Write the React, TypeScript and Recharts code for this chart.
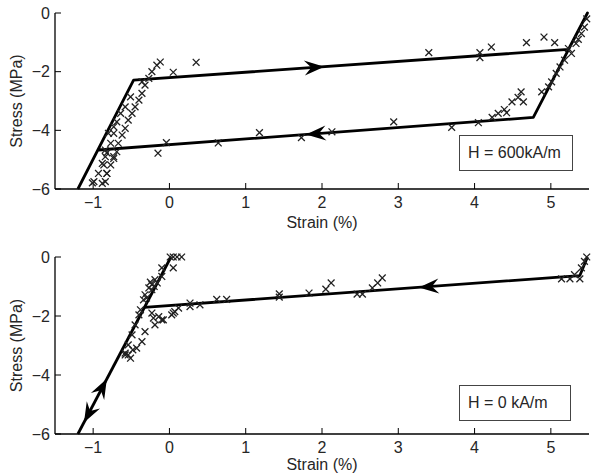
import { ComposedChart, Scatter, XAxis, YAxis } from 'recharts';

const STRAIN_TICKS = [-1, 0, 1, 2, 3, 4, 5];
const STRESS_TICKS = [-6, -4, -2, 0];

// H = 600 kA/m : model loop (strain %, stress MPa)
const model600: [number, number][] = [
  [-1.2, -6], [-0.47, -2.29], [5.23, -1.24], [5.48, 0], [4.77, -3.56], [-0.93, -4.67],
];
const measured600: [number, number][] = [
  [-0.12, -1.67], [-0.165, -1.78], [-0.23, -2.0], [-0.27, -2.23], [-0.36, -2.35], [-0.32, -2.46],
  [-0.36, -2.74], [-0.4, -2.97], [-0.45, -3.2], [-0.49, -3.42], [-0.54, -3.65], [-0.58, -3.93],
  [-0.62, -4.16], [-0.67, -4.44], [-0.69, -4.73], [-0.73, -4.96], [-0.77, -5.18], [-0.82, -5.47],
  [-0.84, -5.75], [-0.51, -2.86], [-0.58, -3.2], [-0.64, -3.42], [-0.69, -3.71], [-0.73, -3.88],
  [-0.73, -4.1], [-0.8, -4.1], [-0.77, -4.44], [-0.84, -4.67], [-0.82, -4.77], [-0.73, -4.9],
  [-0.84, -4.9], [-0.88, -5.13], [-0.86, -5.18], [-0.93, -5.47], [-0.82, -5.47], [-0.99, -5.75],
  [-0.88, -5.81], [-1.01, -5.79],
  [-0.15, -4.78], [-0.04, -4.42], [0.05, -2.02], [0.35, -1.68], [0.64, -4.43], [1.18, -4.08],
  [1.73, -4.25], [2.13, -4.05], [2.94, -3.71], [3.7, -3.9], [4.05, -3.74], [4.23, -3.56],
  [4.31, -3.42], [4.39, -3.29], [4.42, -3.4], [4.49, -3.03], [4.57, -2.88], [4.61, -2.69],
  [4.64, -3.03], [3.4, -1.35], [4.07, -1.35], [4.07, -1.52], [4.22, -1.16], [4.68, -1.01],
  [4.91, -0.82], [5.05, -1.01], [5.23, -1.21], [5.27, -1.38], [5.33, -1.04], [5.36, -0.9],
  [5.4, -0.7], [5.44, -0.48], [5.47, -0.2], [5.18, -1.61], [5.12, -1.84], [5.07, -2.06],
  [5.01, -2.35], [4.97, -2.52], [4.88, -2.69],
];
// arrow tip (x, y) and the point it heads towards
const arrows600: [number, number, number, number][] = [
  [2.03, -1.83, 5.23, -1.24],
  [1.79, -4.14, -0.93, -4.67],
];

// H = 0 kA/m : model paths
const model0Elastic: [number, number][] = [[-1.2, -6], [0.02, 0]];
const model0Unload: [number, number][] = [[-0.33, -1.71], [5.38, -0.63], [5.48, 0]];
const measured0: [number, number][] = [
  [0.01, 0], [0.05, 0], [0.1, 0], [0.16, 0], [0.05, -0.37], [-0.1, -0.37], [-0.1, -0.66],
  [-0.19, -0.77], [-0.16, -0.88], [-0.25, -0.85], [-0.23, -0.94], [-0.2, -1.0], [-0.27, -1.05],
  [-0.23, -1.11], [-0.32, -1.28], [-0.3, -1.39], [-0.34, -1.45], [-0.38, -1.79], [-0.4, -1.96],
  [-0.45, -2.3], [-0.49, -2.64], [-0.54, -2.98], [-0.48, -3.15], [-0.58, -3.26], [-0.58, -3.32],
  [-0.54, -3.32], [-0.23, -1.9], [-0.14, -2.02], [-0.08, -2.13], [0.03, -1.96], [-0.19, -2.3],
  [-0.32, -2.53], [-0.36, -2.87], [-0.43, -3.09], [-0.51, -3.43], [-0.1, -2.13], [-0.21, -2.07],
  [0.07, -1.85], [0.12, -1.73], [0.05, -1.9], [0.27, -1.68], [0.27, -1.56], [0.4, -1.62],
  [0.62, -1.44], [0.75, -1.44], [1.44, -1.25], [1.44, -1.36], [1.83, -1.22], [2.05, -1.09],
  [2.12, -0.88], [2.46, -1.26], [2.53, -1.26], [2.66, -1.05], [2.73, -0.88], [2.79, -0.71],
  [5.14, -0.74], [5.25, -0.74], [5.31, -0.6], [5.38, -0.74], [5.4, -0.37], [5.44, -0.15], [5.47, 0],
];
const arrows0: [number, number, number, number][] = [
  [3.27, -1.03, -0.33, -1.71],
  [-0.82, -4.13, 0.02, 0],
  [-1.12, -5.61, -1.2, -6],
];

const FONT = '"Liberation Sans", Arial, sans-serif';
const INK = '#262626';
const PX_X = 534 / 7;
const PX_Y = 176 / 6;

const pts = (pairs: [number, number][]) => pairs.map(([x, y]) => ({ x, y }));
const arrowPts = (rows: [number, number, number, number][]) =>
  rows.map(([x, y, tx, ty]) => ({ x, y, tx, ty }));
const fmt = (v: number) => (v < 0 ? `\u2212${-v}` : `${v}`);

const Cross = ({ cx, cy }: any) => {
  const r = 3.4;
  return (
    <path
      d={`M${cx - r},${cy - r}L${cx + r},${cy + r}M${cx - r},${cy + r}L${cx + r},${cy - r}`}
      stroke="#222"
      strokeWidth={1.3}
      fill="none"
    />
  );
};

const Arrow = ({ cx, cy, payload }: any) => {
  const ang =
    (Math.atan2(-(payload.ty - payload.y) * PX_Y, (payload.tx - payload.x) * PX_X) * 180) / Math.PI;
  return (
    <path transform={`translate(${cx},${cy}) rotate(${ang})`} d="M0,0L-20,-7.5L-13,0L-20,7.5Z" fill="#000" />
  );
};

const NoDot = () => <g />;

const yLabel = ({ viewBox }: any) => {
  const cx = 16;
  const cy = viewBox.y + viewBox.height / 2;
  return (
    <text x={cx} y={cy} transform={`rotate(-90 ${cx} ${cy})`} textAnchor="middle" dominantBaseline="central"
      fill={INK} fontSize={16} fontFamily={FONT}>
      Stress (MPa)
    </text>
  );
};

const xLabel = (base: number) => ({ viewBox }: any) => (
  <text x={viewBox.x + viewBox.width / 2} y={viewBox.y + base} textAnchor="middle" fill={INK} fontSize={16} fontFamily={FONT}>
    Strain (%)
  </text>
);

const tickStyle = { fill: INK, fontSize: 16, fontFamily: FONT };
const axisLine = { stroke: '#000', strokeWidth: 1.3 };

function Panel({ top, height, marginTop, axisH, labelBase, models, measured, arrows, legend, legendTop, legendW }: any) {
  return (
    <div style={{ position: 'absolute', left: 0, top, width: 593, height }}>
      <ComposedChart width={593} height={height} margin={{ top: marginTop, right: 4, bottom: 0, left: 0 }}>
        <XAxis xAxisId="b" type="number" dataKey="x" domain={[-1.5, 5.5]} ticks={STRAIN_TICKS} height={axisH}
          tickSize={-6} tickMargin={14} tick={tickStyle} tickFormatter={fmt} axisLine={axisLine}
          tickLine={{ stroke: '#000' }} interval={0} label={{ content: xLabel(labelBase) }} />
        <XAxis xAxisId="t" orientation="top" type="number" dataKey="x" domain={[-1.5, 5.5]} ticks={STRAIN_TICKS}
          height={0} tickSize={-6} tick={false} axisLine={axisLine} tickLine={{ stroke: '#000' }} interval={0} />
        <YAxis yAxisId="l" type="number" dataKey="y" domain={[-6, 0]} ticks={STRESS_TICKS} width={55}
          tickSize={-6} tickMargin={11} tick={tickStyle} tickFormatter={fmt} axisLine={axisLine}
          tickLine={{ stroke: '#000' }} interval={0} label={{ content: yLabel }} />
        <YAxis yAxisId="r" orientation="right" type="number" dataKey="y" domain={[-6, 0]} ticks={STRESS_TICKS}
          width={0} tickSize={-6} tick={false} axisLine={axisLine} tickLine={{ stroke: '#000' }} interval={0} />
        {models.map((m: [number, number][], i: number) => (
          <Scatter key={`m${i}`} xAxisId="b" yAxisId="l" data={pts(m)} shape={NoDot}
            line={{ stroke: '#000', strokeWidth: 2.8, strokeLinejoin: 'round' }} isAnimationActive={false} />
        ))}
        <Scatter xAxisId="b" yAxisId="l" data={pts(measured)} shape={Cross} isAnimationActive={false} />
        <Scatter xAxisId="b" yAxisId="l" data={arrowPts(arrows)} shape={Arrow} isAnimationActive={false} />
      </ComposedChart>
      <div style={{
        position: 'absolute', left: 459, top: legendTop, width: legendW, height: 36, boxSizing: 'border-box',
        border: '1px solid #444', background: '#fff', display: 'flex', alignItems: 'center', paddingLeft: 8,
        fontFamily: FONT, fontSize: 16, color: INK, whiteSpace: 'nowrap',
      }}>
        {legend}
      </div>
    </div>
  );
}

export default function App() {
  return (
    <div style={{ position: 'absolute', left: 0, top: 0, width: 593, height: 474, background: '#fff', overflow: 'hidden' }}>
      <Panel top={0} height={240} marginTop={13} axisH={51} labelBase={39} models={[model600]}
        measured={measured600} arrows={arrows600} legend="H = 600kA/m" legendTop={135} legendW={114} />
      <Panel top={240} height={234} marginTop={17} axisH={40} labelBase={36} models={[model0Elastic, model0Unload]}
        measured={measured0} arrows={arrows0} legend="H = 0 kA/m" legendTop={145} legendW={112} />
    </div>
  );
}
